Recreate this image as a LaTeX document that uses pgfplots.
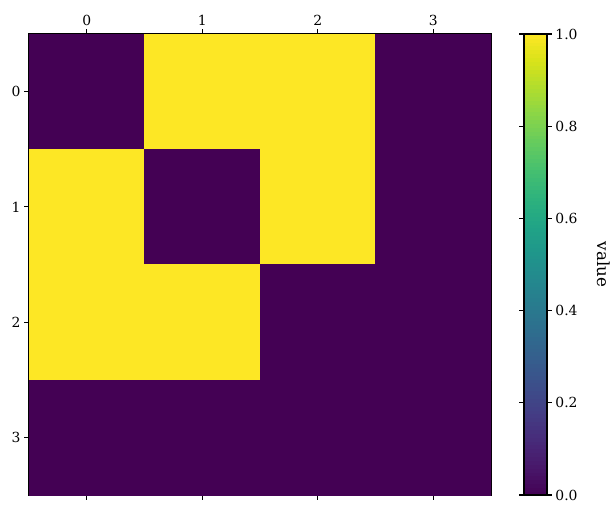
\documentclass[border=0pt]{standalone}
\usepackage{pgfplots}
\pgfplotsset{compat=1.18}
\usepackage{fontspec}
\setmainfont{DejaVu Serif}
\begin{document}
\begin{tikzpicture}
\begin{axis}[name=main, at={(0,0)}, anchor=south west, scale only axis,
  width=462pt, height=461pt,
  xmin=-0.5, xmax=3.5, ymin=-0.5, ymax=3.5, y dir=reverse, enlargelimits=false,
  xtick={0,1,2,3}, ytick={0,1,2,3},
  xtick pos=both, xticklabel pos=upper, ytick pos=left,
  tick align=outside, major tick length=4.9pt,
  tick style={black, line width=1.1pt}, axis line style={line width=1.1pt},
  tick label style={font=\fontsize{13.9}{16}\selectfont},
  /pgf/number format/assume math mode=true,
  colormap/viridis, point meta min=0, point meta max=1,
  colorbar sampled,
  colorbar style={
    at={(parent axis.north east)}, anchor=north west, xshift=24.5pt,
    scale only axis, width=23pt, height=461pt,
    samples=120,
    ytick={0,0.2,0.4,0.6,0.8,1.0},
    yticklabel style={/pgf/number format/.cd, fixed, fixed zerofill, precision=1, assume math mode=true},
    tick label style={font=\fontsize{13.9}{16}\selectfont},
    ylabel={value},
    ylabel style={at={(axis description cs:3.45,0.5)}, anchor=center, rotate=180, font=\fontsize{16.7}{18}\selectfont},
    major tick length=4.9pt, tick align=outside,
    tick style={black, line width=1.1pt}, axis line style={line width=1.1pt},
  },
]
\addplot[matrix plot*, mesh/cols=4, point meta=explicit] table[meta=c] {
x y c
0 0 0
1 0 1
2 0 1
3 0 0
0 1 1
1 1 0
2 1 1
3 1 0
0 2 1
1 2 1
2 2 0
3 2 0
0 3 0
1 3 0
2 3 0
3 3 0
};
\end{axis}
\pgfresetboundingbox
\path[use as bounding box] ([shift={(-29pt,-19pt)}]main.south west) rectangle ([shift={(585pt,495pt)}]main.south west);
\end{tikzpicture}
\end{document}
